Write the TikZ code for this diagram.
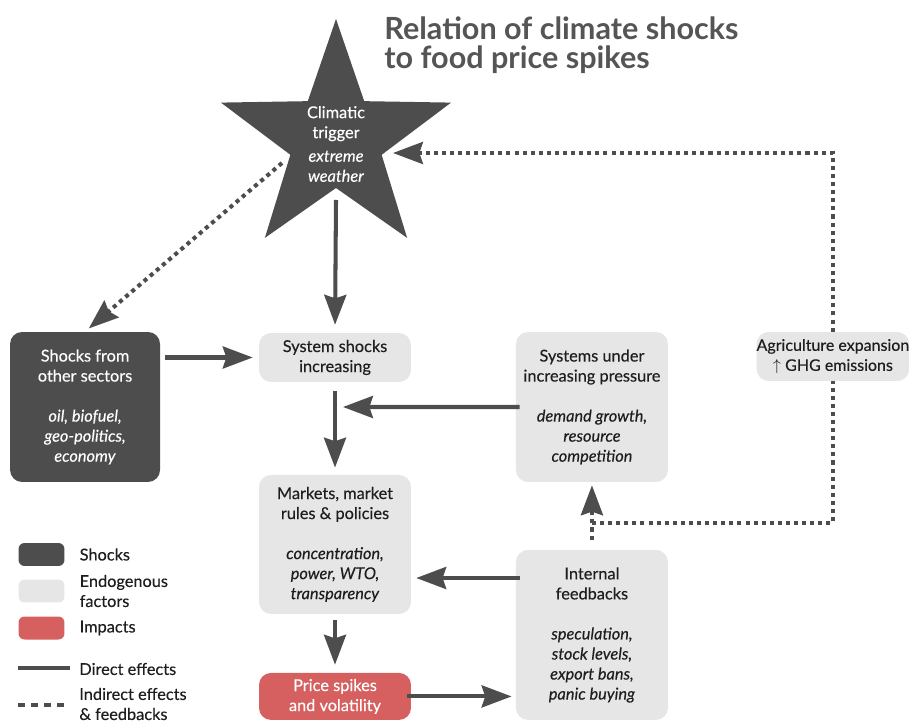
\documentclass[tikz,border=0pt]{standalone}
\usepackage{fontspec}
\setmainfont{Lato}[FakeBold=0.3]
\newfontfamily\titleface{Lato}
\usetikzlibrary{arrows.meta}
\usetikzlibrary{positioning}
\definecolor{shockgray}{HTML}{4D4D4D}
\definecolor{endogray}{HTML}{E6E6E6}
\definecolor{impactred}{HTML}{D65F5F}
\definecolor{titlegray}{HTML}{555555}
\definecolor{textdark}{HTML}{1E1E1E}
\newcommand{\boxfont}{\fontsize{9.3}{11.4}\selectfont}
\tikzset{
    factor/.style={
           rectangle,
           rounded corners=0.24cm,
           fill=endogray,
           text=textdark,
           minimum width=3.04cm,
           inner sep=0pt,
           align=center,
           font=\boxfont,
           },
    shockbox/.style={factor, fill=shockgray, text=white},
    impact/.style={factor, fill=impactred, text=white},
    keybox/.style={rectangle, rounded corners=0.12cm, minimum width=0.92cm,
           minimum height=0.46cm, inner sep=0pt},
    keytext/.style={font=\boxfont, text=textdark, align=left, inner sep=0pt},
    direct/.style={draw=shockgray, line width=2.3pt,
           -{Stealth[length=17pt,width=12.5pt,inset=2pt]}},
    indirect/.style={direct, dash pattern=on 2.3pt off 2.3pt},
}

\begin{document}
\begin{tikzpicture}[x=0.02cm,y=-0.02cm]
        \useasboundingbox (0,0) rectangle (909,722);

        % TITLE
        \node[anchor=north west, inner sep=0pt, align=left, text=titlegray,
            font=\titleface\fontsize{17.4}{16.6}\selectfont\bfseries] (title) at (384,16)
        {Relation of climate shocks\\to food price spikes};

        % STAR: climatic trigger
        % outer radius 121, inner radius 48
        \fill[shockgray, shift={(336,140)}] (-90:121)
            \foreach \a/\r in {-54/48,-18/121,18/48,54/121,90/48,126/121,162/48,198/121,234/48}
            { -- (\a:\r) } -- cycle;
        \node[align=center, inner sep=0pt, text=white, font=\boxfont] (trigger) at (336,144)
        {Climatic\\trigger\\[2pt]\textit{extreme}\\\textit{weather}};
        \coordinate (trigger-in) at (393,153);
        \coordinate (trigger-out) at (282,163);
        \coordinate (trigger-base) at (336,200);

        % SYSTEM SHOCKS
        \node[factor, minimum height=0.98cm] (shocks) at (335,357.5)
        {System shocks\\increasing};

        % MARKETS
        \node[factor,
            minimum height=2.78cm,
            below of=shocks,
            node distance=3.74cm,
            anchor=center] (markets)
        {Markets, market\\rules \& policies\\[\baselineskip]
         \textit{concentration,}\\\textit{power, WTO,}\\\textit{transparency}};

        % PRICE SPIKES
        \node[impact,
            minimum height=0.94cm,
            below of=markets,
            node distance=3.04cm,
            anchor=center] (price)
        {Price spikes\\and volatility};

        % SHOCKS FROM OTHER SECTORS
        \node[shockbox,
            minimum width=3cm, minimum height=3cm,
            left of=shocks,
            yshift=-0.99cm,
            node distance=5cm,
            anchor=center] (others)
        {Shocks from\\other sectors\\[\baselineskip]
         \textit{oil, biofuel,}\\\textit{geo-politics,}\\\textit{economy}};

        % SYSTEMS UNDER PRESSURE
        \node[factor,
            minimum height=3cm,
            right of=shocks,
            yshift=-0.99cm,
            node distance=5.14cm,
            anchor=center] (pressure)
        {Systems under\\increasing pressure\\[\baselineskip]
         \textit{demand growth,}\\\textit{resource}\\\textit{competition}};

        % INTERNAL FEEDBACKS
        \node[factor,
            minimum height=3.4cm,
            below of=pressure,
            node distance=4.56cm,
            anchor=center] (feedback)
        {Internal\\feedbacks\\[\baselineskip]
         \textit{speculation,}\\\textit{stock levels,}\\\textit{export bans,}\\\textit{panic buying}};

        % AGRICULTURE EXPANSION
        \node[factor,
            minimum height=0.98cm,
            right of=pressure,
            yshift=1.01cm,
            node distance=4.82cm,
            anchor=center,
            font=\fontsize{9.1}{11.4}\selectfont] (agri)
        {Agriculture expansion\\$\uparrow$ GHG emissions};

        \coordinate (merge) at (343,407);

        % direct effects
        \draw[direct, shorten >=4.5pt] (trigger-base) -- (shocks.north);
        \draw[direct, shorten <=2.8pt, shorten >=3.4pt] (others.east |- shocks) -- (shocks.west);
        \draw[direct, shorten <=5pt, shorten >=4pt] (shocks.south) -- (markets.north);
        \draw[direct, shorten <=-2.3pt] (pressure.west) -- (merge);
        \draw[direct, shorten <=3.4pt, shorten >=4.5pt] (markets.south) -- (price.north);
        \draw[direct, shorten <=-2.3pt, shorten >=2.8pt] (feedback.west |- 0,578) -- (markets.east |- 0,578);
        \draw[direct, shorten <=-2.3pt, shorten >=2.3pt] (price.east) -- (feedback.west |- price.east);

        % indirect effects and feedbacks
        \draw[indirect, shorten >=2.8pt] (trigger-out) -- (others.north);
        \draw[indirect, shorten <=5.7pt, shorten >=1.7pt] (feedback.north) -- (pressure.south);
        \path (feedback.north) ++(0,-27) coordinate (split);
        \draw[indirect, -] (split) -| (agri.south);
        \draw[indirect] (agri.north) |- (trigger-in);

        % LEGEND
        \node[keybox, fill=shockgray] (key-shock) at (41.5,554.5) {};
        \node[keytext, right=0.29cm of key-shock] (key-shock-txt) {Shocks};
        \node[keybox, fill=endogray] (key-endo) at (41.5,591) {};
        \node[keytext, right=0.29cm of key-endo] (key-endo-txt) {Endogenous\\factors};
        \node[keybox, fill=impactred] (key-impact) at (41.5,628) {};
        \node[keytext, right=0.29cm of key-impact] (key-impact-txt) {Impacts};

        \coordinate (key-direct-a) at (18,668);
        \coordinate (key-direct-b) at (70,668);
        \draw[direct, -] (key-direct-a) -- (key-direct-b);
        \node[keytext, anchor=west] (key-direct-txt) at (79,669) {Direct effects};

        \coordinate (key-indirect-a) at (18,705);
        \coordinate (key-indirect-b) at (64,705);
        \draw[indirect, -, dash pattern=on 4pt off 3.4pt] (key-indirect-a) -- (key-indirect-b);
        \node[keytext, anchor=west] (key-indirect-txt) at (79,704) {Indirect effects\\\& feedbacks};

\end{tikzpicture}
\end{document}
